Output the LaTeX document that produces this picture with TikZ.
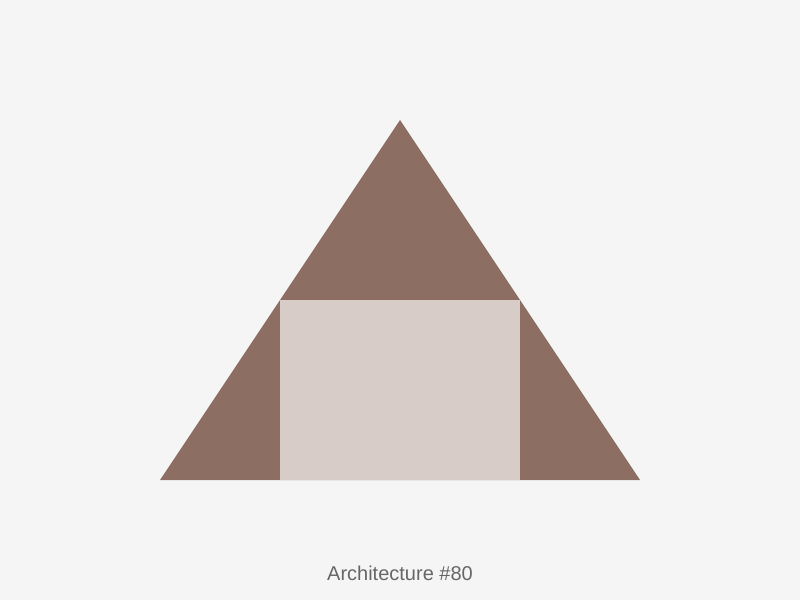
\documentclass[tikz,border=0pt]{standalone}
\usepackage{fontspec}
\setmainfont{Liberation Sans}
\definecolor{bg}{HTML}{F5F5F5}
\definecolor{roof}{HTML}{8D6E63}
\definecolor{wall}{HTML}{D7CCC8}
\definecolor{cap}{HTML}{666666}
\begin{document}
\begin{tikzpicture}[x=1pt,y=-1pt,
  shapefill/.style={draw=none},
  captext/.style={text=cap,font=\fontsize{20}{24}\selectfont,inner sep=0pt}]
\fill[bg] (0,0) rectangle (800,600);
\useasboundingbox (0,0) rectangle (800,600);
\fill[roof,shapefill] (400,120) -- (640,480) -- (160,480) -- cycle;
\fill[wall,shapefill] (280,300) rectangle (520,480);
\node[captext] (caption) at (400,573) {Architecture \#80};
\end{tikzpicture}
\end{document}
